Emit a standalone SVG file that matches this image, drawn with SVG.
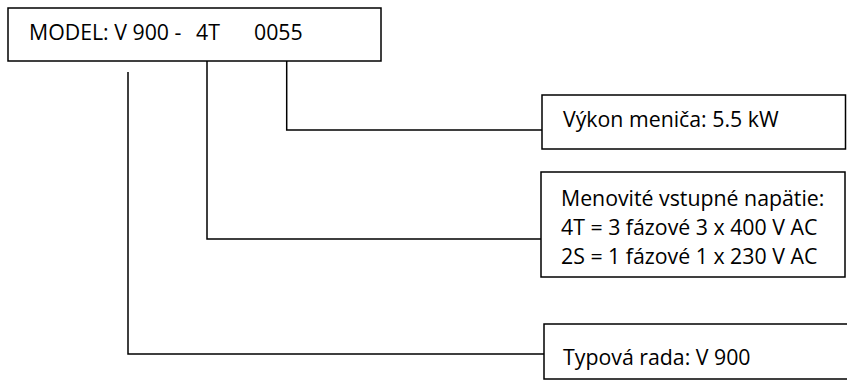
<svg xmlns="http://www.w3.org/2000/svg" width="847" height="382" viewBox="0 0 847 382">
<style>
.box{fill:#fff;stroke:#000;stroke-width:1.5}
.t{font-family:"Open Sans","Noto Sans","Liberation Sans",sans-serif;font-size:21.3px;fill:#000}
.c{fill:none;stroke:#000;stroke-width:1.5}
</style>
<rect width="847" height="382" fill="#fff"/>
<g id="model">
<rect class="box" x="8" y="8" width="373" height="53"/>
<text class="t" y="40"><tspan x="29">MODEL: V 900 -</tspan><tspan x="196">4T</tspan><tspan x="254">0055</tspan></text>
</g>
<g id="vykon">
<rect class="box" x="542" y="95" width="303.5" height="54"/>
<text class="t" x="563" y="127">Výkon meniča: 5.5 kW</text>
</g>
<g id="napatie">
<rect class="box" x="541" y="172" width="304" height="105"/>
<text class="t" x="561" y="206">Menovité vstupné napätie:</text>
<text class="t" x="561" y="235">4T = 3 fázové 3 x 400 V AC</text>
<text class="t" x="561" y="264">2S = 1 fázové 1 x 230 V AC</text>
</g>
<g id="rada">
<rect class="box" x="544" y="324" width="310" height="55"/>
<text class="t" x="563" y="365">Typová rada: V 900</text>
</g>
<g id="connectors">
<polyline class="c" points="286.7,61 286.7,130 542,130"/>
<polyline class="c" points="207,61 207,239 541,239"/>
<polyline class="c" points="128,72 128,354 544,354"/>
</g>
</svg>
